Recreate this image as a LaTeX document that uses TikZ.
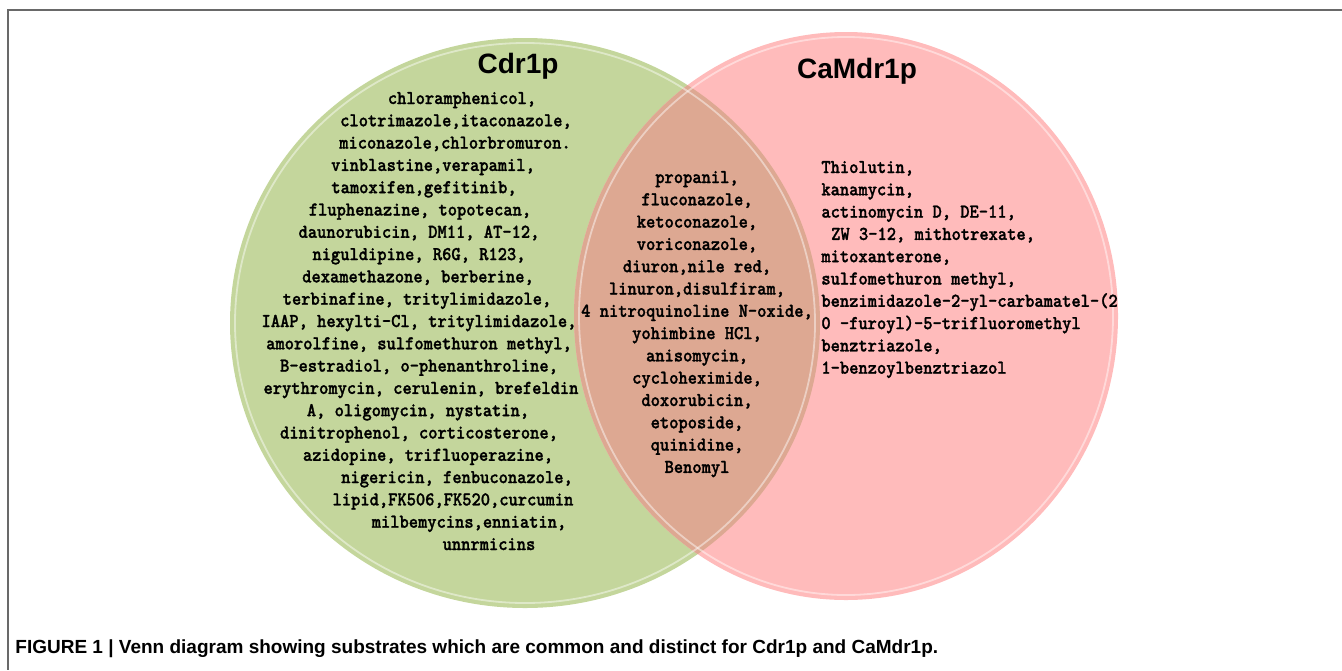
\documentclass[tikz,border=0pt]{standalone}
\usepackage{fontspec}
\setmainfont{Liberation Sans}
\newfontfamily\drugfont{lmmonolt10-bold.otf}[FakeStretch=0.9, FakeBold=1.3]
\definecolor{cdrgreen}{RGB}{196,214,156}
\definecolor{mdrpink}{RGB}{255,187,187}
\definecolor{lensbrown}{RGB}{221,168,146}
\definecolor{framegray}{RGB}{105,105,105}

\begin{document}
\begin{tikzpicture}[x=0.5pt,y=-0.5pt,
    drug/.style={font=\drugfont\fontsize{9.8}{11.2}\selectfont, inner sep=0pt, anchor=base},
    setname/.style={font=\bfseries\fontsize{14}{16}\selectfont, inner sep=0pt},
    rim/.style={white, opacity=0.45, line width=0.9pt}]
  \useasboundingbox (0,0) rectangle (1342,670);
  \draw[framegray, line width=1pt] (1342,10) -- (8,10) -- (8,670);

  \fill[cdrgreen] (525,323) ellipse [x radius=147.5pt, y radius=142.5pt];
  \fill[mdrpink] (846,316) ellipse [x radius=136pt, y radius=142pt];
  \begin{scope}
    \clip (525,323) ellipse [x radius=147.5pt, y radius=142.5pt];
    \fill[lensbrown] (846,316) ellipse [x radius=136pt, y radius=142pt];
  \end{scope}
  \draw[rim] (525,323) ellipse [x radius=145pt, y radius=140pt];
  \draw[rim] (846,316) ellipse [x radius=133.5pt, y radius=139.5pt];

  \node[setname] (cdrname) at (518,66) {Cdr1p};
  \node[setname] (mdrname) at (857,71) {CaMdr1p};

  \foreach \cx/\txt [count=\i] in {
      462/{chloramphenicol,},
      456/{clotrimazole,itaconazole,},
      455/{miconazole,chlorbromuron.},
      433/{vinblastine,verapamil,},
      424/{tamoxifen,gefitinib,},
      420/{fluphenazine, topotecan,},
      419/{daunorubicin, DM11, AT-12,},
      419/{niguldipine, R6G, R123,},
      418/{dexamethazone, berberine,},
      417/{terbinafine, tritylimidazole,},
      419/{IAAP, hexylti-Cl, tritylimidazole,},
      419/{amorolfine, sulfomethuron methyl,},
      419/{B-estradiol, o-phenanthroline,},
      421/{erythromycin, cerulenin, brefeldin},
      418/{A, oligomycin, nystatin,},
      419/{dinitrophenol, corticosterone,},
      428/{azidopine, trifluoperazine,},
      457/{nigericin, fenbuconazole,},
      453/{lipid,FK506,FK520,curcumin},
      469/{milbemycins,enniatin,},
      489/{unnrmicins}}
    \node[drug] (cdr\i) at (\cx,{104+22.3*(\i-1)}) {\txt};

  \foreach \txt [count=\i] in {
      {propanil,}, {fluconazole,}, {ketoconazole,}, {voriconazole,},
      {diuron,nile red,}, {linuron,disulfiram,},
      {4 nitroquinoline N-oxide,}, {yohimbine HCl,}, {anisomycin,},
      {cycloheximide,}, {doxorubicin,}, {etoposide,}, {quinidine,},
      {Benomyl}}
    \node[drug] (both\i) at (697,{183+22.3*(\i-1)}) {\txt};

  \foreach \txt [count=\i] in {
      {Thiolutin,}, {kanamycin,}, {actinomycin D, DE-11,},
      {\hspace*{0.5em}ZW 3-12, mithotrexate,}, {mitoxanterone,},
      {sulfomethuron methyl,}, {benzimidazole-2-yl-carbamatel-(2},
      {0 -furoyl)-5-trifluoromethyl}, {benztriazole,},
      {1-benzoylbenztriazol}}
    \node[drug, anchor=base west] (mdr\i) at (821,{173+22.3*(\i-1)}) {\txt};

  \node[font=\bfseries\fontsize{9.5}{11}\selectfont, inner sep=0pt, anchor=base west]
    (caption) at (15,653) {FIGURE 1 | Venn diagram showing substrates which are common and distinct for Cdr1p and CaMdr1p.};
\end{tikzpicture}
\end{document}
